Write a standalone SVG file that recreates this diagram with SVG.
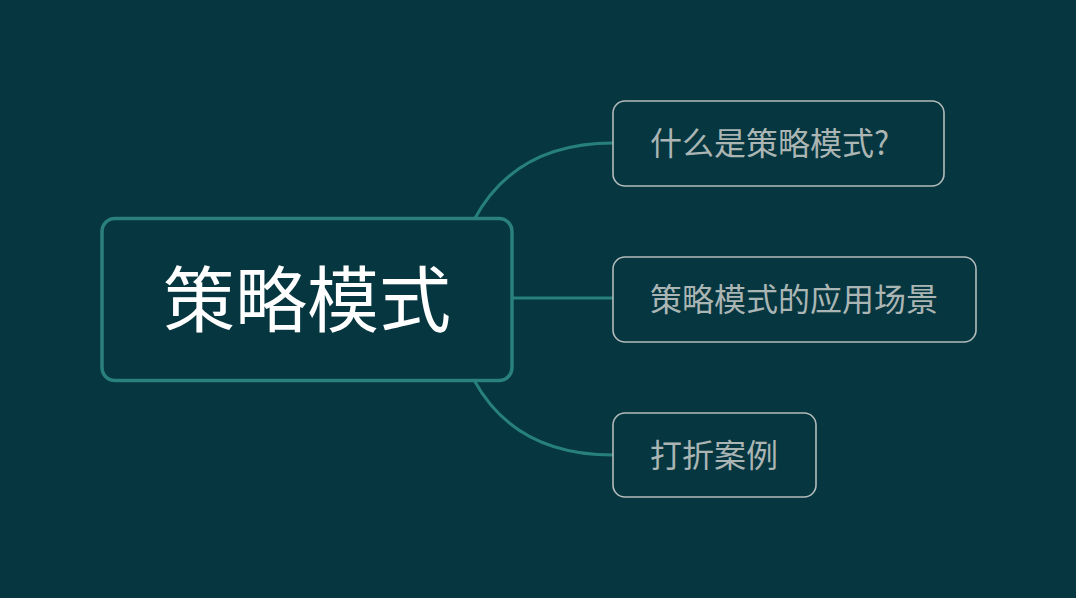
<svg xmlns="http://www.w3.org/2000/svg" width="1076" height="598" viewBox="0 0 1076 598">
<style>
.bg{fill:#06363f}
.conn{fill:none;stroke:#27807b;stroke-width:3;stroke-linecap:round}
.root{fill:#06363f;stroke:#2a807c;stroke-width:3.5}
.child{fill:#06363f;stroke:#b3bcbb;stroke-width:1.6}
.rt{font-family:"Noto Sans CJK SC","Noto Sans",sans-serif;font-size:72px;font-weight:400;fill:#ffffff;text-anchor:middle;dominant-baseline:central}
.ct{font-family:"Noto Sans CJK SC","Noto Sans",sans-serif;font-size:32px;fill:#aab5b4;dominant-baseline:central}
</style>
<rect class="bg" x="0" y="0" width="1076" height="598"/>
<g id="connectors">
<path class="conn" d="M 474 220 Q 515 143 613 143"/>
<path class="conn" d="M 512 298 L 613 298"/>
<path class="conn" d="M 474 380 Q 515 455 613 455"/>
</g>
<g id="root">
<rect class="root" x="102" y="218.5" width="410" height="162" rx="13"/>
<text class="rt" x="307" y="294">策略模式</text>
</g>
<g id="n1">
<rect class="child" x="613" y="101" width="331" height="85" rx="12"/>
<text class="ct" x="650" y="141">什么是策略模式?</text>
</g>
<g id="n2">
<rect class="child" x="613" y="257" width="363" height="85" rx="12"/>
<text class="ct" x="650" y="297">策略模式的应用场景</text>
</g>
<g id="n3">
<rect class="child" x="613" y="413" width="203" height="84" rx="12"/>
<text class="ct" x="650" y="453">打折案例</text>
</g>
</svg>
